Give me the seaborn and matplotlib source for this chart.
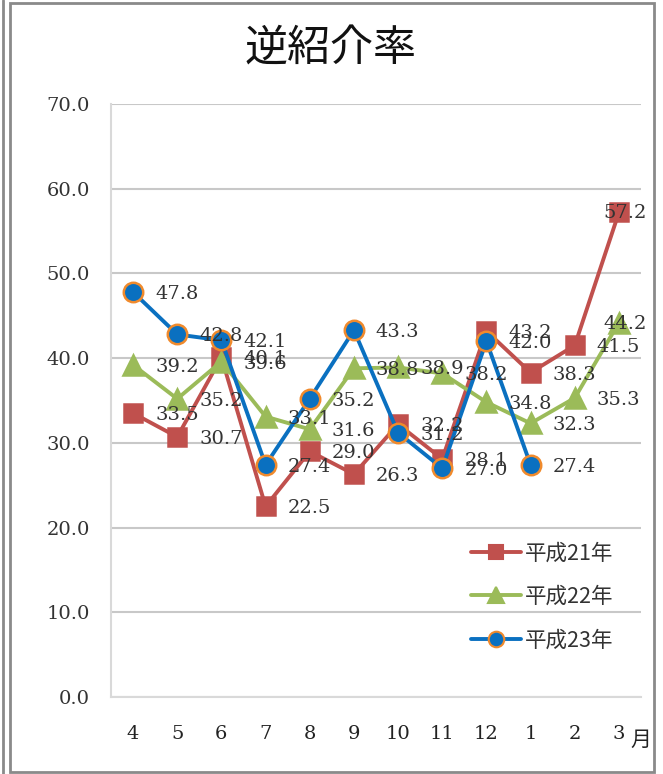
import matplotlib
matplotlib.use("Agg")
import matplotlib.pyplot as plt
import seaborn as sns
import numpy as np
import pandas as pd
from matplotlib.patches import Rectangle
from matplotlib.lines import Line2D

months = ["4", "5", "6", "7", "8", "9", "10", "11", "12", "1", "2", "3"]
series_names = ["平成21年", "平成22年", "平成23年"]
h21 = [33.5, 30.7, 40.1, 22.5, 29.0, 26.3, 32.2, 28.1, 43.2, 38.3, 41.5, 57.2]
h22 = [39.2, 35.2, 39.6, 33.1, 31.6, 38.8, 38.9, 38.2, 34.8, 32.3, 35.3, 44.2]
h23 = [47.8, 42.8, 42.1, 27.4, 35.2, 43.3, 31.2, 27.0, 42.0, 27.4, np.nan, np.nan]
yticks = [0, 10, 20, 30, 40, 50, 60, 70]

sns.set_theme(style="white")
plt.rcParams['font.family'] = ['DejaVu Serif', 'Noto Sans CJK JP']

SERIF = "DejaVu Serif"
FS = 14

W, H = 663, 774
fig = plt.figure(figsize=(W / 100, H / 100), dpi=100)
ax = fig.add_axes([111 / W, 1 - 697 / H, (641 - 111) / W, (697 - 104) / H])

idx = np.arange(len(months))
df = pd.DataFrame({
    "x": np.concatenate([idx, idx, idx]),
    "v": h21 + h22 + h23,
    "s": [series_names[0]] * 12 + [series_names[1]] * 12 + [series_names[2]] * 12,
})

colors = {"平成21年": "#C0504D", "平成22年": "#9BBB59", "平成23年": "#0A70C0"}
markers = {"平成21年": "s", "平成22年": "^", "平成23年": "o"}
medge = {"平成21年": "#C0504D", "平成22年": "#9BBB59", "平成23年": "#F08A2C"}
msize = {"平成21年": 13, "平成22年": 14, "平成23年": 14}

for name in series_names:
    sub = df[df["s"] == name].dropna()
    sns.lineplot(data=sub, x="x", y="v", ax=ax, color=colors[name], lw=2.8,
                 marker=markers[name], markersize=msize[name],
                 markerfacecolor=colors[name], markeredgecolor=medge[name],
                 markeredgewidth=1.8, legend=False)
    for xi, v in zip(sub["x"], sub["v"]):
        if xi == len(months) - 1:
            ax.annotate(f"{v:.1f}", (xi, v), xytext=(28, -1), textcoords="offset pixels",
                        ha="right", va="center", fontsize=FS, color="#333333",
                        family=SERIF)
        else:
            ax.annotate(f"{v:.1f}", (xi, v), xytext=(22, -2), textcoords="offset pixels",
                        ha="left", va="center", fontsize=FS, color="#333333",
                        family=SERIF)

ax.set_xlim(-0.5, 11.5)
ax.set_ylim(0, 70)
ax.set_yticks(yticks)
ax.set_yticklabels([f"{t:.1f}" for t in yticks], fontsize=FS, color="#333333", family=SERIF)
ax.set_xticks(idx)
ax.set_xticklabels(months, fontsize=FS, color="#222222", family=SERIF)
ax.tick_params(axis="y", length=0, pad=15)
ax.tick_params(axis="x", length=0, pad=20)
ax.set_xlabel("")
ax.set_ylabel("")
ax.grid(axis="y", color="#c8c8c8", lw=1.5)
ax.set_axisbelow(True)
for side in ["left", "bottom", "right"]:
    ax.spines[side].set_color("#d9d9d9")
    ax.spines[side].set_linewidth(1.5)
ax.spines["top"].set_visible(False)
ax.spines["right"].set_visible(False)

fig.text(630 / W, 1 - 740 / H, "月", fontsize=15, family=["Noto Sans CJK JP"],
         ha="left", va="center", color="#222222")

fig.text(331 / W, 1 - 50 / H, "逆紹介率", fontsize=31, family=["Noto Sans CJK JP"],
         ha="center", va="center", color="#111111")

handles = [Line2D([], [], color=colors[n], lw=2.8, marker=markers[n],
                  markersize=msize[n] * 0.8, markerfacecolor=colors[n],
                  markeredgecolor=medge[n], markeredgewidth=1.5) for n in series_names]
leg = fig.legend(handles, series_names, loc="upper left",
                 bbox_to_anchor=(452 / W, 1 - 523 / H), frameon=False,
                 prop={"family": ["Noto Sans CJK JP"], "size": 15.5},
                 labelspacing=1.0, handlelength=2.3, handletextpad=0.2)
for t in leg.get_texts():
    t.set_color("#333333")

fig.add_artist(Rectangle((10 / W, 2 / H), (654 - 10) / W, (771 - 2) / H,
                         transform=fig.transFigure, fill=False,
                         edgecolor="#8a8a8a", lw=2))
fig.add_artist(Line2D([3 / W, 3 / W], [0, 1], transform=fig.transFigure,
                      color="#8a8a8a", lw=2))

fig.savefig("out.png", dpi=100)
